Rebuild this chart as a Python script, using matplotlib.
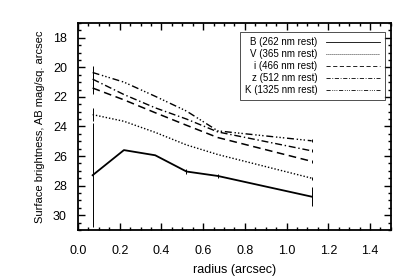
import numpy as np
import matplotlib
matplotlib.use( 'Agg' )
import matplotlib.pyplot as plt
from matplotlib.ticker import MultipleLocator

plt.rcParams['font.family'] = ['Liberation Sans', 'DejaVu Sans']

radius = [0.07, 0.22, 0.37, 0.52, 0.67, 1.12]

b_mag = [27.3, 25.6, 25.95, 27.05, 27.35, 28.75]
v_mag = [23.2, 23.65, 24.4, 25.25, 25.9, 27.5]
i_mag = [21.4, 22.2, 23.07, 23.92, 24.75, 26.36]
z_mag = [20.8, 21.84, 22.74, 23.5, 24.37, 25.65]
k_mag = [20.35, 21.0, 21.96, 22.96, 24.3, 24.97]

b_err = [3.5, 0.0, 0.0, 0.15, 0.12, 0.65]
v_err = [0.45, 0.0, 0.0, 0.0, 0.0, 0.1]
i_err = [0.4, 0.0, 0.0, 0.0, 0.0, 0.1]
z_err = [0.5, 0.0, 0.0, 0.0, 0.0, 0.1]
k_err = [0.45, 0.0, 0.0, 0.0, 0.0, 0.1]

labels = ['B (262 nm rest)', 'V (365 nm rest)', 'i (466 nm rest)',
          'z (512 nm rest)', 'K (1325 nm rest)']

styles = ['-', (0, (1, 1.4)), (0, (5, 3)), (0, (5, 2, 1, 2)),
          (0, (5, 2, 1, 1.5, 1, 1.5, 1, 2))]
widths = [1.3, 1.0, 1.1, 1.0, 1.0]

fig = plt.figure( figsize=(4.15, 2.77), dpi=100 )
ax = fig.add_axes( [0.188, 0.17, 0.754, 0.747] )

series = [b_mag, v_mag, i_mag, z_mag, k_mag]
errs = [b_err, v_err, i_err, z_err, k_err]
for mag, err, lab, ls, lw in zip( series, errs, labels, styles, widths ):
    ax.plot( radius, mag, color='black', linestyle=ls, linewidth=lw, label=lab )
    ax.errorbar( radius, mag, yerr=err, fmt='none', ecolor='black', elinewidth=0.7, capsize=0 )

ax.set_xlim( 0, 1.5 )
ax.set_ylim( 31, 17 )
ax.xaxis.set_major_locator( MultipleLocator( 0.2 ) )
ax.xaxis.set_minor_locator( MultipleLocator( 0.05 ) )
ax.yaxis.set_major_locator( MultipleLocator( 2 ) )
ax.yaxis.set_minor_locator( MultipleLocator( 0.5 ) )
ax.yaxis.set_major_formatter( matplotlib.ticker.FormatStrFormatter( '%d' ) )
ax.xaxis.set_major_formatter( matplotlib.ticker.FormatStrFormatter( '%.1f' ) )
ax.tick_params( which='both', direction='in', top=True, right=True, width=1.0 )
ax.tick_params( which='major', length=5, labelsize=9, pad=8 )
ax.tick_params( axis='x', which='major', pad=11 )
ax.tick_params( which='minor', length=2.5 )
for s in ax.spines.values( ):
    s.set_linewidth( 1.3 )

ax.set_xlabel( 'radius (arcsec)', fontsize=9, labelpad=5 )
ax.set_ylabel( 'Surface brightness, AB mag/sq. arcsec', fontsize=8, labelpad=6 )

leg = ax.legend( loc='upper right', bbox_to_anchor=(0.98, 0.955), markerfirst=False, fontsize=7,
                 handlelength=5.5, frameon=True, fancybox=False, edgecolor='black',
                 borderpad=0.5, labelspacing=0.2, handletextpad=0.9, borderaxespad=0 )
leg.get_frame( ).set_linewidth( 0.6 )
for line in leg.get_lines( ):
    line.set_linewidth( 0.6 )

fig.savefig( 'out.png', dpi=100 )
